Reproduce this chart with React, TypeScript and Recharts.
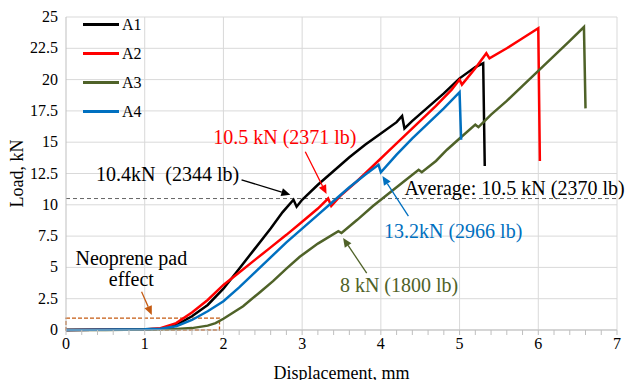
import React from "react";
import {
  LineChart,
  Line,
  XAxis,
  YAxis,
  CartesianGrid,
  ReferenceLine,
  ReferenceDot,
  ReferenceArea,
} from "recharts";

const FONT = "'Liberation Serif', 'Times New Roman', serif";

const xTicks = [0, 1, 2, 3, 4, 5, 6, 7];
const xMinorTicks = [
  0, 0.2, 0.4, 0.6, 0.8, 1, 1.2, 1.4, 1.6, 1.8, 2, 2.2, 2.4, 2.6, 2.8, 3, 3.2,
  3.4, 3.6, 3.8, 4, 4.2, 4.4, 4.6, 4.8, 5, 5.2, 5.4, 5.6, 5.8, 6, 6.2, 6.4, 6.6,
  6.8, 7,
];
const yTicks = [0, 2.5, 5, 7.5, 10, 12.5, 15, 17.5, 20, 22.5, 25];
const yTickLabels = ["0", "2.5", "5", "7.5", "10", "12.5", "15", "17.5", "20", "22.5", "25"];

// displacement (mm), load (kN)
const a1: [number, number][] = [
  [0, 0], [1.0, 0.05], [1.2, 0.1], [1.4, 0.4], [1.6, 1.1], [1.8, 2.0], [2.0, 3.3],
  [2.2, 4.9], [2.4, 6.5], [2.6, 8.1], [2.75, 9.4], [2.89, 10.4], [2.93, 9.85],
  [3.0, 10.4], [3.2, 11.6], [3.4, 12.7], [3.6, 13.8], [3.8, 14.8], [4.0, 15.7],
  [4.2, 16.6], [4.27, 17.1], [4.3, 16.1], [4.4, 16.7], [4.6, 17.8], [4.8, 18.9],
  [5.0, 20.1], [5.2, 21.0], [5.3, 21.3], [5.32, 13.1],
];
const a2: [number, number][] = [
  [0, 0], [1.0, 0.05], [1.2, 0.15], [1.4, 0.55], [1.6, 1.4], [1.8, 2.4], [2.0, 3.6],
  [2.2, 4.6], [2.4, 5.6], [2.6, 6.6], [2.8, 7.6], [3.0, 8.65], [3.2, 9.7],
  [3.33, 10.5], [3.37, 9.9], [3.5, 10.8], [3.7, 11.9], [3.9, 13.1], [4.1, 14.3],
  [4.3, 15.5], [4.5, 16.7], [4.7, 17.9], [4.9, 19.2], [5.0, 20.0], [5.03, 19.6],
  [5.2, 20.9], [5.34, 22.1], [5.38, 21.7], [5.6, 22.5], [5.8, 23.3], [6.0, 24.1],
  [6.02, 13.5],
];
const a3: [number, number][] = [
  [0, 0], [0.5, 0.01], [1.0, 0.03], [1.4, 0.08], [1.6, 0.15], [1.8, 0.35],
  [1.9, 0.55], [2.0, 0.9], [2.1, 1.3], [2.25, 1.9], [2.46, 3.0], [2.63, 3.9],
  [2.8, 4.9], [2.97, 5.85], [3.2, 6.9], [3.46, 7.9], [3.5, 7.75], [3.7, 8.8],
  [3.9, 9.9], [4.1, 10.9], [4.3, 11.9], [4.48, 12.8], [4.52, 12.6], [4.7, 13.5],
  [4.84, 14.4], [5.0, 15.3], [5.2, 16.4], [5.24, 16.2], [5.4, 17.2], [5.6, 18.3],
  [5.8, 19.5], [6.05, 21.0], [6.2, 21.9], [6.4, 23.1], [6.58, 24.2], [6.6, 17.7],
];
const a4: [number, number][] = [
  [0, 0], [1.0, 0.05], [1.2, 0.1], [1.4, 0.3], [1.6, 0.8], [1.8, 1.5], [2.0, 2.3],
  [2.2, 3.4], [2.4, 4.6], [2.6, 5.8], [2.8, 7.0], [3.0, 8.1], [3.2, 9.2],
  [3.4, 10.3], [3.6, 11.4], [3.8, 12.4], [3.97, 13.2], [4.0, 12.6], [4.2, 14.0],
  [4.4, 15.3], [4.6, 16.5], [4.8, 17.7], [5.0, 19.0], [5.02, 15.2],
];

const series = [
  { name: "A1", color: "#000000", points: a1 },
  { name: "A2", color: "#FF0000", points: a2 },
  { name: "A3", color: "#4F6228", points: a3 },
  { name: "A4", color: "#0070C0", points: a4 },
];

const averageLoad = 10.5;

const notes = [
  { text: "10.4kN\u00a0 (2344 lb)", x: 0.38, y: 12.45, color: "#000000", anchor: "start" },
  { text: "10.5 kN (2371 lb)", x: 1.87, y: 15.4, color: "#FF0000", anchor: "start" },
  { text: "Average: 10.5 kN (2370 lb)", x: 4.3, y: 11.35, color: "#000000", anchor: "start" },
  { text: "13.2kN (2966 lb)", x: 4.04, y: 7.9, color: "#0070C0", anchor: "start" },
  { text: "8 kN (1800 lb)", x: 3.48, y: 3.6, color: "#4F6228", anchor: "start" },
  { text: "Neoprene pad", x: 0.83, y: 5.75, color: "#000000", anchor: "middle" },
  { text: "effect", x: 0.83, y: 4.07, color: "#000000", anchor: "middle" },
];

const arrows = [
  { from: [2.23, 12.0], to: [2.85, 10.8], color: "#000000" },
  { from: [3.04, 14.24], to: [3.31, 10.86], color: "#FF0000" },
  { from: [4.35, 9.1], to: [4.02, 12.3], color: "#0070C0" },
  { from: [3.82, 4.55], to: [3.52, 7.35], color: "#4F6228" },
  { from: [0.96, 3.06], to: [1.09, 1.2], color: "#C55A11" },
];

const padBox = { x1: 0, x2: 1.95, y1: 0, y2: 0.95 };

function Arrow(props: any) {
  const { x1, y1, x2, y2, color } = props;
  const ang = Math.atan2(y2 - y1, x2 - x1);
  const len = 9;
  const w = 4;
  const bx = x2 - len * Math.cos(ang);
  const by = y2 - len * Math.sin(ang);
  const px = -Math.sin(ang) * w;
  const py = Math.cos(ang) * w;
  return (
    <g>
      <line x1={x1} y1={y1} x2={bx} y2={by} stroke={color} strokeWidth={1.3} />
      <polygon
        points={`${x2},${y2} ${bx + px},${by + py} ${bx - px},${by - py}`}
        fill={color}
      />
    </g>
  );
}

function XTick(props: any) {
  const { x, y, payload } = props;
  if (!xTicks.includes(payload.value)) return null;
  return (
    <text x={x} y={y + 12} textAnchor="middle" fill="#000" fontSize={16} fontFamily={FONT}>
      {String(payload.value)}
    </text>
  );
}

function YTick(props: any) {
  const { x, y, payload } = props;
  return (
    <text x={x} y={y} dy={5} textAnchor="end" fill="#000" fontSize={16} fontFamily={FONT}>
      {yTickLabels[yTicks.indexOf(payload.value)]}
    </text>
  );
}

function LegendBox() {
  return (
    <div
      style={{
        position: "absolute",
        left: 83,
        top: 10,
        fontFamily: FONT,
        fontSize: 16,
        lineHeight: "16px",
      }}
    >
      {series.map((s) => (
        <div key={s.name} style={{ display: "flex", alignItems: "center", height: 29 }}>
          <div style={{ width: 36, height: 3, background: s.color, marginRight: 3 }} />
          <span>{s.name}</span>
        </div>
      ))}
    </div>
  );
}

export default function App() {
  return (
    <div
      style={{
        position: "absolute",
        left: 0,
        top: 0,
        width: 632,
        height: 380,
        background: "#fff",
        fontFamily: FONT,
      }}
    >
      <LineChart
        width={632}
        height={380}
        margin={{ top: 17, right: 15, left: 0, bottom: 0 }}
        style={{ fontFamily: FONT }}
      >
        <CartesianGrid vertical={false} stroke="#D9D9D9" />
        {xTicks.slice(1).map((v) => (
          <ReferenceLine key={"gx" + v} x={v} stroke="#D9D9D9" />
        ))}
        <XAxis
          type="number"
          dataKey="x"
          domain={[0, 7]}
          ticks={xMinorTicks}
          interval={0}
          tick={<XTick />}
          stroke="#BFBFBF"
          tickSize={5}
          height={50}
          label={{
            value: "Displacement, mm",
            position: "insideBottom",
            offset: 1,
            style: { fontSize: 18, fill: "#000", fontFamily: FONT },
          }}
        />
        <YAxis
          type="number"
          domain={[0, 25]}
          ticks={yTicks}
          interval={0}
          tick={<YTick />}
          tickLine={false}
          stroke="#BFBFBF"
          width={66}
          label={{
            value: "Load, kN",
            angle: -90,
            position: "insideLeft",
            offset: 17,
            style: { fontSize: 18, fill: "#000", fontFamily: FONT, textAnchor: "middle" },
          }}
        />
        <ReferenceArea
          x1={padBox.x1}
          x2={padBox.x2}
          y1={padBox.y1}
          y2={padBox.y2}
          fill="none"
          stroke="#C55A11"
          strokeWidth={1.3}
          strokeDasharray="4 2"
        />
        <ReferenceLine
          y={averageLoad}
          stroke="#666"
          strokeDasharray="4 3"
          strokeWidth={1}
        />
        {series.map((s) => (
          <Line
            key={s.name}
            name={s.name}
            data={s.points.map(([x, y]) => ({ x, y }))}
            dataKey="y"
            type="linear"
            stroke={s.color}
            strokeWidth={2.5}
            dot={false}
            isAnimationActive={false}
          />
        ))}
        {arrows.map((a, i) => (
          <ReferenceLine
            key={"ar" + i}
            segment={[
              { x: a.from[0], y: a.from[1] },
              { x: a.to[0], y: a.to[1] },
            ]}
            shape={(p: any) => <Arrow {...p} color={a.color} />}
          />
        ))}
        {notes.map((n, i) => (
          <ReferenceDot
            key={"n" + i}
            x={n.x}
            y={n.y}
            r={0}
            shape={(p: any) => (
              <text
                x={p.cx}
                y={p.cy}
                fill={n.color}
                fontSize={20}
                fontFamily={FONT}
                textAnchor={n.anchor as any}
                dominantBaseline="central"
              >
                {n.text}
              </text>
            )}
          />
        ))}
      </LineChart>
      <LegendBox />
    </div>
  );
}
